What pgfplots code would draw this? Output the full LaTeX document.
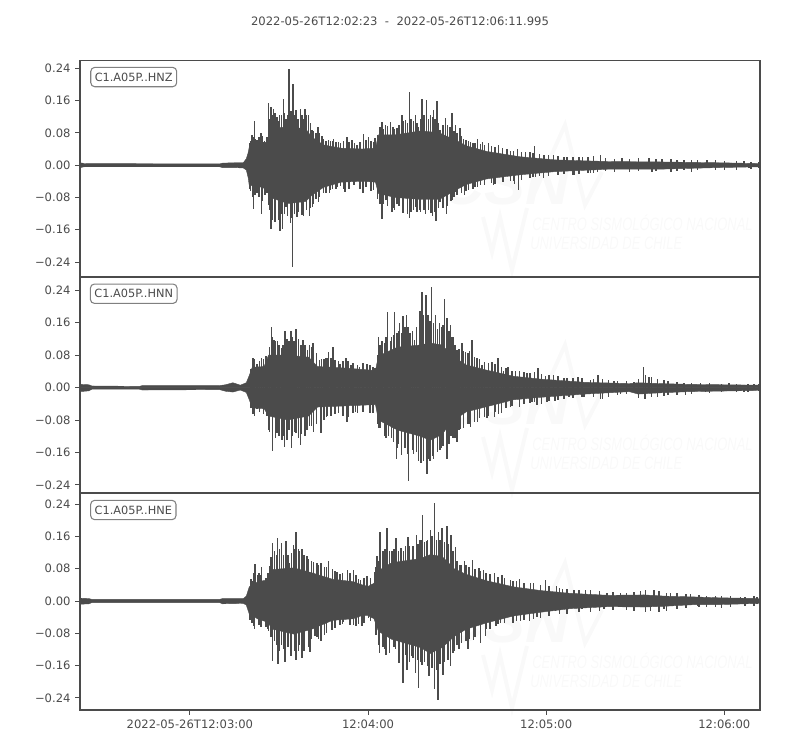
\documentclass[border=0pt]{standalone}
\usepackage{graphicx}
\usepackage{fontspec}
\setmainfont{DejaVu Sans}
\newfontfamily\wmfont{Liberation Sans}
\usepackage{pgfplots}
\usepackage{pgfplotstable}
\pgfplotsset{compat=1.18}
\definecolor{tr}{HTML}{4B4B4B}
\definecolor{wm}{HTML}{F9F9F9}

% ---------- HNZ ----------
\pgfplotstableread{
t up lo
0 .006 -.006
1.5 .004 -.004
47 .003 -.004
48 .005 -.006
52 .006 -.006
55 .006 -.007
56 .016 -.012
56.6 .03 -.03
57 .045 -.05
60 .05 -.052
63 .058 -.06
64 .09 -.08
70 .095 -.095
76 .09 -.09
78 .07 -.075
82 .05 -.055
88 .042 -.042
95 .04 -.04
99.5 .042 -.042
100.5 .075 -.07
106 .075 -.08
115 .085 -.085
121 .08 -.085
127 .06 -.06
130 .048 -.048
137 .034 -.034
148 .021 -.024
160 .013 -.016
178 .009 -.01
195 .008 -.01
215 .006 -.006
229 .004 -.004
}\Zb
\pgfplotstableread{
t up lo
57.5 .06 -.065
58.2 .07 -.08
59 .066 -.075
60.3 .07 -.08
61.4 .072 -.09
62.2 .06 -.075
62.9 .07 -.07
64 .115 -.11
64.8 .125 -.135
65.7 .13 -.14
66.8 .11 -.135
67.8 .125 -.12
68.9 .13 -.12
69.9 .125 -.125
71 .135 -.13
72.2 .125 -.12
73.4 .115 -.115
74.7 .125 -.115
75.3 .115 -.125
76.3 .125 -.11
77.6 .105 -.105
78.7 .085 -.095
79.4 .08 -.085
80.7 .08 -.08
82 .066 -.07
82.8 .06 -.07
84.4 .06 -.062
85 .06 -.06
86.2 .058 -.06
87.8 .055 -.052
88.8 .06 -.058
90.6 .058 -.06
92.5 .055 -.05
94.3 .058 -.058
96.3 .062 -.055
98 .06 -.065
98.9 .058 -.06
100.2 .075 -.085
101 .095 -.095
102.2 .09 -.095
103.5 .097 -.1
105.4 .095 -.105
106 .09 -.11
107.5 .1 -.10
108.9 .11 -.105
110.3 .105 -.12
111.5 .115 -.115
112.3 .11 -.11
113.5 .105 -.115
114.7 .115 -.115
115.9 .125 -.11
117.3 .115 -.11
118.7 .12 -.125
119.6 .115 -.115
120.8 .105 -.105
122.2 .10 -.105
123.7 .10 -.10
124.9 .095 -.09
125.9 .085 -.08
127 .08 -.075
128.5 .072 -.07
130 .062 -.065
130.8 .06 -.062
132.4 .055 -.058
133 .056 -.055
134.8 .052 -.05
136.3 .05 -.048
138.5 .048 -.045
139.8 .045 -.047
142.3 .042 -.042
145 .036 -.04
146 .036 -.038
148.7 .032 -.036
151.5 .032 -.032
152.5 .03 -.03
154.7 .028 -.028
157.7 .024 -.028
161 .022 -.025
163 .02 -.022
166 .021 -.024
168 .02 -.021
171 .02 -.02
173 .022 -.019
177 .018 -.015
180 .015 -.017
185 .016 -.016
188 .017 -.014
194 .015 -.015
199 .015 -.016
201 .013 -.014
206 .014 -.016
208 .012 -.012
214 .012 -.013
217 .01 -.011
221 .011 -.011
226 .009 -.01
228.5 .009 -.008
}\Zx
\pgfplotstableread{
t v
57.1 .054
57.9 .074
58.7 .109
59.6 .062
61.0 .080
61.8 .058
63.5 .154
64.3 .144
65.2 .14
66.3 .12
67.2 .124
68.5 .165
69.4 .115
70.4 .237
71.7 .20
72.8 .136
74.2 .138
75.8 .14
77 .124
78.1 .087
80.1 .095
81.5 .072
83.7 .062
85.4 .066
87.1 .058
89.9 .07
91.6 .062
93.3 .05
95.5 .077
97.2 .07
99.4 .068
101.7 .107
102.8 .099
104.5 .106
106.7 .091
108.4 .124
109.6 .113
110.9 .182
112.9 .124
114 .095
115.2 .165
116.6 .161
118 .124
119.1 .136
120.2 .158
121.3 .087
123 .116
124.5 .095
125.3 .128
126.4 .099
127.9 .093
129.2 .066
131.5 .058
133.9 .064
135.6 .058
137.6 .054
141 .05
143.8 .041
147.4 .041
150 .033
153.1 .047
156.2 .025
159.5 .025
164 .019
169.3 .019
175.3 .025
182.6 .017
191.6 .017
196 .016
203.4 .014
211.2 .012
223.6 .01
}\Zu
\pgfplotstableread{
t v
57.1 -.058
58.4 -.109
59.6 -.07
61.2 -.12
62.4 -.074
63.5 -.099
64.4 -.157
65.7 -.128
67.4 -.163
68.2 -.157
69.4 -.103
70.8 -.144
71.5 -.252
73 -.128
74.7 -.124
77.3 -.126
78.3 -.103
80.3 -.091
82 -.07
84 -.068
86.5 -.054
89.3 -.066
92.1 -.05
95.3 -.07
98.9 -.062
101.7 -.134
103.1 -.087
105.1 -.116
106.7 -.095
108.8 -.118
111 -.132
112.9 -.103
114.4 -.111
116.3 -.12
118.2 -.118
119.9 -.138
121.3 -.091
123.4 -.12
125.3 -.087
126.4 -.066
129.4 -.074
132.6 -.058
133.9 -.054
139.3 -.05
142.5 -.041
146.3 -.047
147.7 -.062
153.4 -.029
156 -.031
161.2 -.025
166.3 -.025
171.9 -.019
174.2 -.017
192.7 -.017
203.4 -.012
225.3 -.008
}\Zl

% ---------- HNN ----------
\pgfplotstableread{
t up lo
0 .008 -.010
3 .007 -.008
4 .004 -.004
20 .003 -.004
21 .005 -.006
47 .005 -.005
49 .007 -.009
51.5 .012 -.011
54 .006 -.006
56 .012 -.012
57 .03 -.03
58 .05 -.05
62 .052 -.052
63.5 .08 -.07
70 .08 -.08
77 .075 -.07
80 .052 -.048
90 .048 -.045
99.5 .042 -.042
100.5 .078 -.08
107 .10 -.105
114.6 .105 -.12
118 .11 -.13
122 .105 -.115
125 .08 -.085
130 .056 -.06
137 .043 -.047
146 .028 -.03
155 .021 -.024
170 .013 -.016
185 .01 -.01
188 .012 -.016
195 .01 -.013
205 .008 -.01
229 .006 -.007
}\Nb
\pgfplotstableread{
t up lo
57.6 .045 -.05
58.8 .07 -.07
60.4 .065 -.06
61.8 .07 -.065
63 .07 -.07
63.8 .10 -.11
64.9 .125 -.125
65.9 .115 -.125
67 .105 -.12
68.3 .105 -.12
69.7 .12 -.13
70.4 .115 -.105
71.5 .125 -.12
72.2 .115 -.11
73.6 .12 -.125
74.5 .105 -.115
75.8 .105 -.12
77.2 .105 -.095
78 .10 -.095
79.6 .085 -.09
81.3 .07 -.08
82.1 .07 -.08
83.2 .072 -.07
84.5 .072 -.07
85.9 .068 -.065
87 .065 -.062
88.5 .066 -.07
90.3 .065 -.072
92 .06 -.062
93.5 .055 -.062
95.3 .06 -.06
97.7 .056 -.062
98.7 .05 -.062
100.2 .08 -.09
101 .105 -.10
102.5 .11 -.12
103 .125 -.125
104.9 .125 -.125
105.5 .13 -.135
106.7 .135 -.15
107.2 .14 -.14
108.3 .135 -.15
109.4 .15 -.15
110.5 .15 -.165
112 .14 -.155
113.3 .15 -.16
114.7 .19 -.175
115.7 .18 -.18
117.2 .18 -.175
117.8 .165 -.18
119 .16 -.175
120.4 .145 -.16
121.7 .15 -.15
122.2 .155 -.145
124.2 .14 -.14
125 .125 -.12
126.3 .105 -.125
127.7 .095 -.105
129.2 .09 -.10
130.6 .085 -.09
131.2 .09 -.09
132.8 .075 -.085
134.5 .07 -.075
136.2 .062 -.072
137.5 .06 -.07
139.8 .058 -.06
141.9 .05 -.062
143.5 .048 -.05
145.5 .042 -.046
148 .04 -.046
149.5 .038 -.04
151.5 .036 -.038
153 .038 -.036
155.5 .033 -.04
158 .03 -.034
161 .028 -.03
163 .024 -.027
166 .023 -.025
169 .023 -.023
173 .02 -.024
176 .022 -.027
178 .018 -.022
181 .017 -.018
184 .016 -.017
188 .02 -.025
190.5 .03 -.028
192.5 .025 -.024
194.5 .022 -.022
198 .016 -.018
201 .014 -.019
206 .012 -.015
212 .012 -.013
216 .01 -.012
221 .01 -.011
225 .009 -.011
228.5 .009 -.009
}\Nx
\pgfplotstableread{
t v
58.2 .074
59.6 .059
61.2 .074
62.7 .077
64.5 .149
65.4 .118
66.5 .114
67.8 .097
69.1 .139
71 .139
71.9 .114
72.8 .145
75.1 .118
76.6 .093
78.4 .11
80.7 .068
82.6 .073
83.7 .089
85.2 .101
87.6 .059
89.6 .073
91.2 .056
94.2 .05
96.6 .059
99.4 .048
100.6 .125
101.7 .114
103.6 .186
104.5 .114
106 .186
107.6 .159
108.8 .176
109.9 .18
111.2 .134
112.7 .118
114.4 .19
115.2 .235
116.5 .229
118.3 .248
119.7 .18
121.1 .159
122.7 .219
123.6 .172
124.7 .155
125.6 .124
127 .093
128.6 .111
129.8 .089
132 .118
133.7 .073
135.4 .056
138.8 .062
140.8 .073
142.7 .04
144.2 .05
146.6 .04
150.6 .035
154.2 .048
156.7 .029
159.5 .031
164 .023
167.7 .027
171.9 .019
174.5 .031
179.8 .017
186.5 .015
189.7 .05
191.6 .027
196.6 .019
203.4 .011
209 .011
218.5 .011
227 .008
}\Nu
\pgfplotstableread{
t v
58.2 -.064
59.6 -.052
61.8 -.065
63.5 -.105
64.8 -.156
66.3 -.113
68 -.13
68.8 -.146
69.9 -.097
71.3 -.15
72.8 -.113
74.2 -.142
76.4 -.105
78.7 -.109
81.1 -.113
83.1 -.072
86 -.059
89.9 -.084
92.7 -.059
95.5 -.059
98.9 -.055
100.6 -.1
103.9 -.12
106.5 -.177
108.2 -.167
110.7 -.231
112.4 -.163
114 -.182
114.9 -.187
116.8 -.212
118.9 -.169
121.3 -.154
123.6 -.177
125.6 -.125
127 -.135
128.1 -.103
131.5 -.097
133.9 -.084
137 -.074
139.5 -.072
141 -.064
144.9 -.047
148 -.049
152.2 -.035
153.9 -.043
157.3 -.035
159.9 -.032
164.6 -.022
169.7 -.024
175.3 -.029
182 -.016
190.1 -.029
196.6 -.021
203.9 -.018
210.7 -.012
223.6 -.01
}\Nl

% ---------- HNE ----------
\pgfplotstableread{
t up lo
0 .007 -.008
3 .006 -.007
4 .004 -.004
47 .004 -.004
48 .006 -.007
55 .006 -.006
56 .012 -.01
57 .035 -.032
60 .048 -.045
63 .052 -.052
65 .078 -.07
72 .082 -.082
78 .07 -.07
85 .054 -.048
92 .048 -.044
95 .04 -.036
97 .036 -.036
99 .044 -.044
100.5 .075 -.075
105 .095 -.095
114.6 .105 -.115
118 .115 -.13
122 .11 -.115
126 .08 -.088
130 .066 -.07
137 .05 -.054
146 .035 -.037
155 .026 -.028
165 .019 -.019
178 .014 -.014
190 .015 -.015
197 .012 -.013
207 .01 -.009
215 .008 -.009
229 .006 -.006
}\Eb
\pgfplotstableread{
t up lo
57.9 .05 -.055
58.5 .07 -.062
60.3 .07 -.06
60.9 .065 -.065
62.7 .058 -.065
63.3 .07 -.07
64.4 .11 -.09
65.5 .125 -.10
66.1 .115 -.11
67.2 .13 -.125
68.5 .115 -.12
70 .115 -.115
71.2 .12 -.115
72.2 .13 -.125
73.5 .13 -.125
74 .125 -.11
75.5 .115 -.125
77 .105 -.115
78 .10 -.095
79.8 .095 -.09
80.4 .09 -.095
82.4 .085 -.085
83 .085 -.08
85 .08 -.07
85.8 .075 -.068
87.5 .068 -.06
88.4 .07 -.058
90.9 .07 -.06
93 .065 -.062
93.8 .055 -.056
95.6 .058 -.055
97.8 .058 -.05
99.7 .085 -.085
100.5 .10 -.11
102 .125 -.115
102.7 .13 -.12
104.2 .125 -.13
105.7 .13 -.115
107.2 .125 -.125
109 .125 -.14
109.6 .135 -.135
111 .135 -.15
112.2 .135 -.14
113.8 .14 -.145
114.8 .15 -.15
116 .145 -.15
117 .15 -.16
118.6 .16 -.165
120 .15 -.17
121.3 .15 -.155
122.7 .145 -.15
124 .14 -.145
125.6 .125 -.13
127 .10 -.11
128.5 .09 -.105
130 .09 -.10
131 .085 -.095
133 .08 -.09
134.9 .075 -.085
136.8 .07 -.07
138 .068 -.07
140.7 .06 -.058
143 .058 -.055
145.8 .05 -.055
147 .05 -.05
149.5 .045 -.048
152.8 .045 -.045
155 .04 -.042
158 .038 -.038
161.5 .032 -.032
164 .03 -.032
168 .028 -.028
172 .026 -.028
175 .024 -.026
179.5 .022 -.022
184 .02 -.022
186.5 .022 -.024
190.5 .026 -.028
195 .024 -.028
197.5 .02 -.024
201 .02 -.02
204 .018 -.018
208.5 .014 -.016
211 .013 -.014
216 .013 -.017
219 .012 -.014
224 .011 -.013
227 .012 -.012
}\Ex
\pgfplotstableread{
t v
57.6 .054
59 .092
59.9 .065
61.2 .084
62.1 .045
64 .086
64.9 .144
66.6 .156
67.8 .144
69.3 .148
70.6 .094
71.9 .139
72.8 .17
74.7 .129
76.4 .111
78.7 .097
81.1 .094
83.7 .098
86.5 .072
90.1 .078
92.1 .078
94.4 .051
96.6 .061
99.1 .073
100 .111
101.1 .17
103.4 .182
105.1 .123
106.4 .156
108.1 .131
110.4 .158
113.3 .164
114.4 .152
115.4 .214
116.6 .148
118 .175
119.3 .243
120.8 .17
121.9 .182
123.6 .185
125 .164
126.4 .134
127.9 .09
129.4 .098
132.2 .102
134.3 .082
135.9 .076
139.5 .069
142.1 .065
144.9 .051
148 .054
151.7 .045
156.7 .051
160.4 .036
162.4 .03
166.3 .028
170.2 .026
177.5 .021
182 .02
188.8 .024
193.3 .028
198.9 .02
205.6 .017
214 .013
222.5 .01
228 .01
}\Eu
\pgfplotstableread{
t v
57.3 -.046
58.7 -.069
60.7 -.059
63.5 -.075
64.9 -.148
66.7 -.155
67.8 -.108
69.1 -.152
71 -.137
72.8 -.147
74.7 -.141
77.5 -.127
79.2 -.087
81.1 -.1
84.8 -.071
88.8 -.053
92.1 -.059
94.9 -.061
97.2 -.042
100.9 -.129
103.1 -.133
106.2 -.12
107.5 -.153
108.8 -.203
110.1 -.17
111.8 -.137
112.9 -.178
114 -.215
115.2 -.158
117.6 -.186
119.4 -.219
120.6 -.246
122.2 -.184
124.7 -.162
126.2 -.125
127.7 -.12
130.7 -.119
132.6 -.096
134.8 -.104
136.5 -.087
140.1 -.063
141.6 -.054
148.3 -.05
151.3 -.05
153.9 -.04
160.1 -.026
169.1 -.021
176.4 -.021
184.3 -.015
192.1 -.026
196.6 -.021
207.9 -.013
214 -.015
228 -.007
}\El

\pgfplotsset{
  seis/.style={
    scale only axis, width=510pt, height=162.6pt, anchor=south west,
    xmin=0, xmax=229, axis line style={draw=tr, line width=.8pt},
    ytick={-.24,-.16,-.08,0,.08,.16,.24},
    yticklabels={−0.24,−0.16,−0.08,0.00,0.08,0.16,0.24},
    xtick={37,97,157,217},
    xticklabels={2022-05-26T12:03:00,12:04:00,12:05:00,12:06:00},
    tick align=outside, tickwidth=3.6pt,
    tick style={draw=tr, line width=.7pt},
    ytick pos=left, xtick pos=bottom,
    tick label style={font=\fontsize{8.68}{10}\selectfont, text=tr},
    clip=true,
  },
}
\newcommand{\trace}[4]{%
  \addplot[fill=tr, draw=tr, line width=.3pt] table[x=t,y=up] {#1} \closedcycle;
  \addplot[fill=tr, draw=tr, line width=.3pt] table[x=t,y=lo] {#1} \closedcycle;
  \addplot[ycomb, draw=tr, line width=1.1pt, no marks] table[x=t,y=up] {#2};
  \addplot[ycomb, draw=tr, line width=1.1pt, no marks] table[x=t,y=lo] {#2};
  \addplot[ycomb, draw=tr, line width=1.1pt, no marks] table[x=t,y=v] {#3};
  \addplot[ycomb, draw=tr, line width=1.1pt, no marks] table[x=t,y=v] {#4};
}
\newcommand{\watermark}[1]{%
  \begin{scope}[x=.75pt,y=-.75pt,shift={(0pt,562.5pt)},yshift=-#1*.75pt]
    \draw[wm, line width=3pt, line join=miter] (483,217)--(492,252)--(500,217)--(512,270)--(527,208);
    \draw[wm, line width=3pt, line join=miter] (530,203)--(565,125)--(585,205)--(602,172);
    \node[text=wm, anchor=center, inner sep=0pt] at (505,183)
      {\wmfont\fontsize{46}{46}\selectfont\bfseries\itshape CSN};
    \node[text=wm, anchor=west, inner sep=0pt] at (532,223)
      {\scalebox{.72}[1]{\wmfont\fontsize{13.5}{14}\selectfont\itshape CENTRO SISMOLÓGICO NACIONAL}};
    \node[text=wm, anchor=west, inner sep=0pt] at (530,243)
      {\scalebox{.72}[1]{\wmfont\fontsize{13.5}{14}\selectfont\itshape UNIVERSIDAD DE CHILE}};
  \end{scope}%
}
\newcommand{\stname}[3]{%
  \node[draw=black!50, line width=.8pt, rounded corners=3pt, fill=white, text=tr,
        inner xsep=3pt, inner ysep=0pt, minimum height=14.5pt, anchor=center,
        font=\fontsize{8.5}{10}\selectfont] at (#1pt,#2pt) {#3};
}

\begin{document}
\begin{tikzpicture}[x=1pt,y=1pt]
  \path[use as bounding box] (0,0) rectangle (600,562.5);
  \watermark{0}
  \watermark{220}
  \watermark{438}
  \node[text=tr, font=\fontsize{8.7}{10}\selectfont, anchor=center] at (300,546.7)
    {2022-05-26T12:02:23\ \ -\ \ 2022-05-26T12:06:11.995};

  \begin{axis}[seis, at={(60pt,354.75pt)}, ymin=-.277, ymax=.26, xtick=\empty]
    \trace{\Zb}{\Zx}{\Zu}{\Zl}
  \end{axis}
  \begin{axis}[seis, at={(60pt,192.75pt)}, ymin=-.26, ymax=.2748, xtick=\empty]
    \trace{\Nb}{\Nx}{\Nu}{\Nl}
  \end{axis}
  \begin{axis}[seis, at={(60pt,30pt)}, ymin=-.27, ymax=.267]
    \trace{\Eb}{\Ex}{\Eu}{\El}
  \end{axis}

  \stname{100.3}{504.7}{C1.A05P..HNZ}
  \stname{100.3}{342.2}{C1.A05P..HNN}
  \stname{100}{180}{C1.A05P..HNE}
\end{tikzpicture}
\end{document}
